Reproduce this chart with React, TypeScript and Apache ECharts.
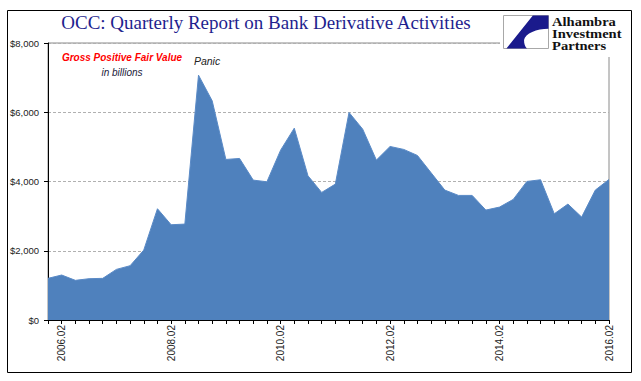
import React, { useEffect, useRef } from "react";
import * as echarts from "echarts";

const categories = [
  "2006.01","2006.02","2006.03","2006.04",
  "2007.01","2007.02","2007.03","2007.04",
  "2008.01","2008.02","2008.03","2008.04",
  "2009.01","2009.02","2009.03","2009.04",
  "2010.01","2010.02","2010.03","2010.04",
  "2011.01","2011.02","2011.03","2011.04",
  "2012.01","2012.02","2012.03","2012.04",
  "2013.01","2013.02","2013.03","2013.04",
  "2014.01","2014.02","2014.03","2014.04",
  "2015.01","2015.02","2015.03","2015.04",
  "2016.01","2016.02",
];

const grossPositiveFairValue = [
  1203, 1299, 1145, 1193,
  1203, 1462, 1568, 2020,
  3213, 2751, 2770, 7071,
  6330, 4637, 4666, 4040,
  3992, 4906, 5541, 4165,
  3685, 3925, 5994, 5512,
  4618, 5012, 4926, 4752,
  4252, 3752, 3598, 3598,
  3175, 3261, 3483, 4002,
  4050, 3068, 3348, 2973,
  3752, 4060,
];

const yTicks = [0, 2000, 4000, 6000, 8000];

const titleText = "OCC: Quarterly Report on Bank Derivative Activities";
const logoLines = ["Alhambra", "Investment", "Partners"];

echarts.graphic.registerShape(
  "logo",
  echarts.graphic.extendPath(
    "M30 0 L46 0 L46 14 C34 14 22 19 21 26 C21 30 22 33 24 35 L3 35 Z",
    {}
  ) as any
);

export default function App() {
  const ref = useRef<HTMLDivElement>(null);
  useEffect(() => {
    if (!ref.current) return;
    const chart = echarts.init(ref.current, null, { renderer: "svg" });
    chart.setOption({
      animation: false,
      backgroundColor: "#ffffff",
      grid: {
        left: 48,
        right: 32,
        top: 43,
        bottom: 61,
        show: true,
        borderColor: "#8a8a8a",
        borderWidth: 1,
      },
      xAxis: {
        type: "category",
        data: categories,
        boundaryGap: false,
        axisLine: { lineStyle: { color: "#000", width: 1 } },
        axisTick: { show: true, interval: 0, length: 4, lineStyle: { color: "#000" } },
        axisLabel: {
          interval: (i: number) => i % 8 === 1,
          rotate: 90,
          margin: 5,
          fontFamily: "Liberation Sans",
          fontSize: 10,
          color: "#222",
        },
        splitLine: { show: false },
      },
      yAxis: {
        type: "value",
        min: yTicks[0],
        max: yTicks[yTicks.length - 1],
        interval: 2000,
        axisLine: { show: true, lineStyle: { color: "#000", width: 1 } },
        axisTick: { show: true, length: 4, lineStyle: { color: "#000" } },
        axisLabel: {
          margin: 9,
          fontFamily: "Liberation Sans",
          fontSize: 9.5,
          color: "#222",
          formatter: (v: number) => "$" + v.toLocaleString("en-US"),
        },
        splitLine: { show: true, lineStyle: { color: "#b0b0b0", type: [3, 2], width: 1 } },
      },
      series: [
        {
          type: "line",
          data: grossPositiveFairValue,
          symbol: "none",
          lineStyle: { color: "#5a8ac6", width: 1 },
          areaStyle: { color: "#4F81BD", opacity: 1 },
          itemStyle: { color: "#4F81BD" },
        },
      ],
      graphic: [
        {
          type: "rect",
          shape: { x: 500, y: 11, width: 131, height: 46 },
          style: { fill: "#ffffff", stroke: "none" },
          z: 10,
        },
        {
          type: "rect",
          shape: { x: 503.5, y: 15.5, width: 45, height: 33 },
          style: { fill: "#ffffff", stroke: "#a8a8a8", lineWidth: 1 },
          z: 11,
        },
        {
          type: "logo",
          x: 503.5,
          y: 15.5,
          scaleX: 45 / 46,
          scaleY: 33 / 35,
          style: { fill: "#1a1a8c" },
          z: 12,
        },
        ...logoLines.map((t, i) => ({
          type: "text",
          x: 552,
          y: 22 + i * 11.8,
          scaleX: 1.12,
          z: 12,
          style: {
            text: t,
            fontFamily: "Liberation Serif",
            fontSize: 13,
            lineHeight: 11,
            fontWeight: "bold",
            fill: "#111",
            textAlign: "left",
            textVerticalAlign: "middle",
          },
        })),
        {
          type: "text",
          x: 266,
          y: 22,
          z: 12,
          style: {
            text: titleText,
            fontFamily: "Liberation Serif",
            fontSize: 19,
            fill: "#1F1F8F",
            textAlign: "center",
            textVerticalAlign: "middle",
          },
        },
        {
          type: "text",
          x: 122,
          y: 57,
          z: 12,
          style: {
            text: "Gross Positive Fair Value",
            fontFamily: "Liberation Sans",
            fontSize: 10,
            fontWeight: "bold",
            fontStyle: "italic",
            fill: "#ff0000",
            textAlign: "center",
            textVerticalAlign: "middle",
          },
        },
        {
          type: "text",
          x: 122,
          y: 72,
          z: 12,
          style: {
            text: "in billions",
            fontFamily: "Liberation Sans",
            fontSize: 10,
            fontStyle: "italic",
            fill: "#1a1a3a",
            textAlign: "center",
            textVerticalAlign: "middle",
          },
        },
        {
          type: "text",
          x: 207,
          y: 61,
          z: 12,
          style: {
            text: "Panic",
            fontFamily: "Liberation Sans",
            fontSize: 10.5,
            fontStyle: "italic",
            fill: "#222",
            textAlign: "center",
            textVerticalAlign: "middle",
          },
        },
        {
          type: "rect",
          shape: { x: 7.5, y: 10.5, width: 624, height: 362 },
          style: { fill: "none", stroke: "#000", lineWidth: 1 },
          z: 12,
        },
      ],
    });
    return () => chart.dispose();
  }, []);
  return (
    <div
      ref={ref}
      style={{ position: "fixed", left: 0, top: 0, width: 641, height: 381 }}
    />
  );
}
